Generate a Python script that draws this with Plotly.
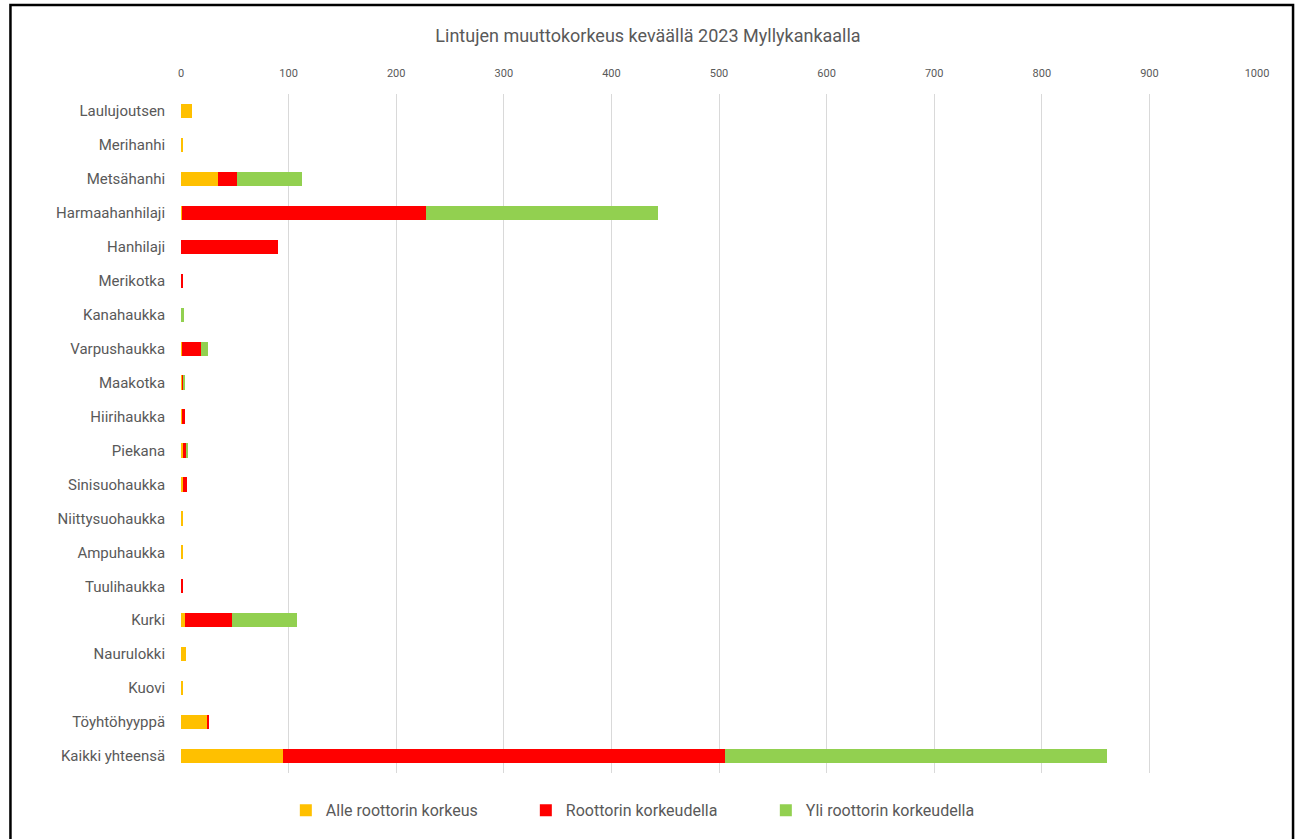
import plotly.graph_objects as go

# Species observed during spring migration
species = [
    "Laulujoutsen", "Merihanhi", "Metsähanhi", "Harmaahanhilaji", "Hanhilaji",
    "Merikotka", "Kanahaukka", "Varpushaukka", "Maakotka", "Hiirihaukka",
    "Piekana", "Sinisuohaukka", "Niittysuohaukka", "Ampuhaukka", "Tuulihaukka",
    "Kurki", "Naurulokki", "Kuovi", "Töyhtöhyyppä", "Kaikki yhteensä",
]

# Counts by flight altitude relative to the turbine rotor
alle_roottorin = [10, 1, 34, 1, 0, 0, 0, 1, 1, 1, 2, 2, 1, 1, 0, 4, 5, 2, 24, 95]
roottorin_korkeudella = [0, 0, 18, 227, 90, 2, 0, 18, 1, 3, 3, 4, 0, 0, 2, 43, 0, 0, 2, 411]
yli_roottorin = [0, 0, 60, 215, 0, 0, 3, 6, 1, 0, 1, 0, 0, 0, 0, 61, 0, 0, 0, 355]

series_names = ["Alle roottorin korkeus", "Roottorin korkeudella", "Yli roottorin korkeudella"]
series_colors = ["#FFC000", "#FF0000", "#92D050"]
x_ticks = [0, 100, 200, 300, 400, 500, 600, 700, 800, 900, 1000]

fig = go.Figure()
for name, vals, col in zip(series_names,
                           [alle_roottorin, roottorin_korkeudella, yli_roottorin],
                           series_colors):
    fig.add_trace(go.Bar(
        y=species, x=vals, name=name, orientation="h",
        marker=dict(color=col, line=dict(width=0)),
    ))

text_color = "#595959"
fig.update_layout(
    barmode="stack",
    bargap=0.58,
    width=1296, height=839,
    margin=dict(l=181, r=39, t=94, b=66),
    paper_bgcolor="white",
    plot_bgcolor="white",
    font=dict(family="Roboto, Lato, sans-serif", color=text_color),
    title=dict(
        text="Lintujen muuttokorkeus keväällä 2023 Myllykankaalla",
        x=0.5, xanchor="center", y=0.957, yanchor="middle",
        font=dict(size=18, color=text_color, family="Roboto, sans-serif"),
    ),
    xaxis=dict(
        side="top", range=[0, 1000], tickvals=x_ticks,
        showgrid=True, gridcolor="#D9D9D9", gridwidth=1,
        zeroline=False, showline=False, ticks="",
        tickfont=dict(size=11, color=text_color),
        ticklabelstandoff=14,
    ),
    yaxis=dict(
        autorange="reversed", showgrid=False, showline=False, ticks="",
        tickfont=dict(size=15, color=text_color), ticksuffix="    ",
    ),
    legend=dict(
        orientation="h", x=0.432, xanchor="center", y=-0.055, yanchor="middle",
        font=dict(size=16, color=text_color), traceorder="normal",
        itemwidth=30, entrywidth=195,
    ),
    shapes=[
        dict(type="rect", xref="paper", yref="paper",
             x0=-0.1585, x1=1.0335, y0=-0.12, y1=1.131,
             line=dict(color="#000000", width=2.5), layer="above"),
    ],
)

fig.write_html("out.html")
